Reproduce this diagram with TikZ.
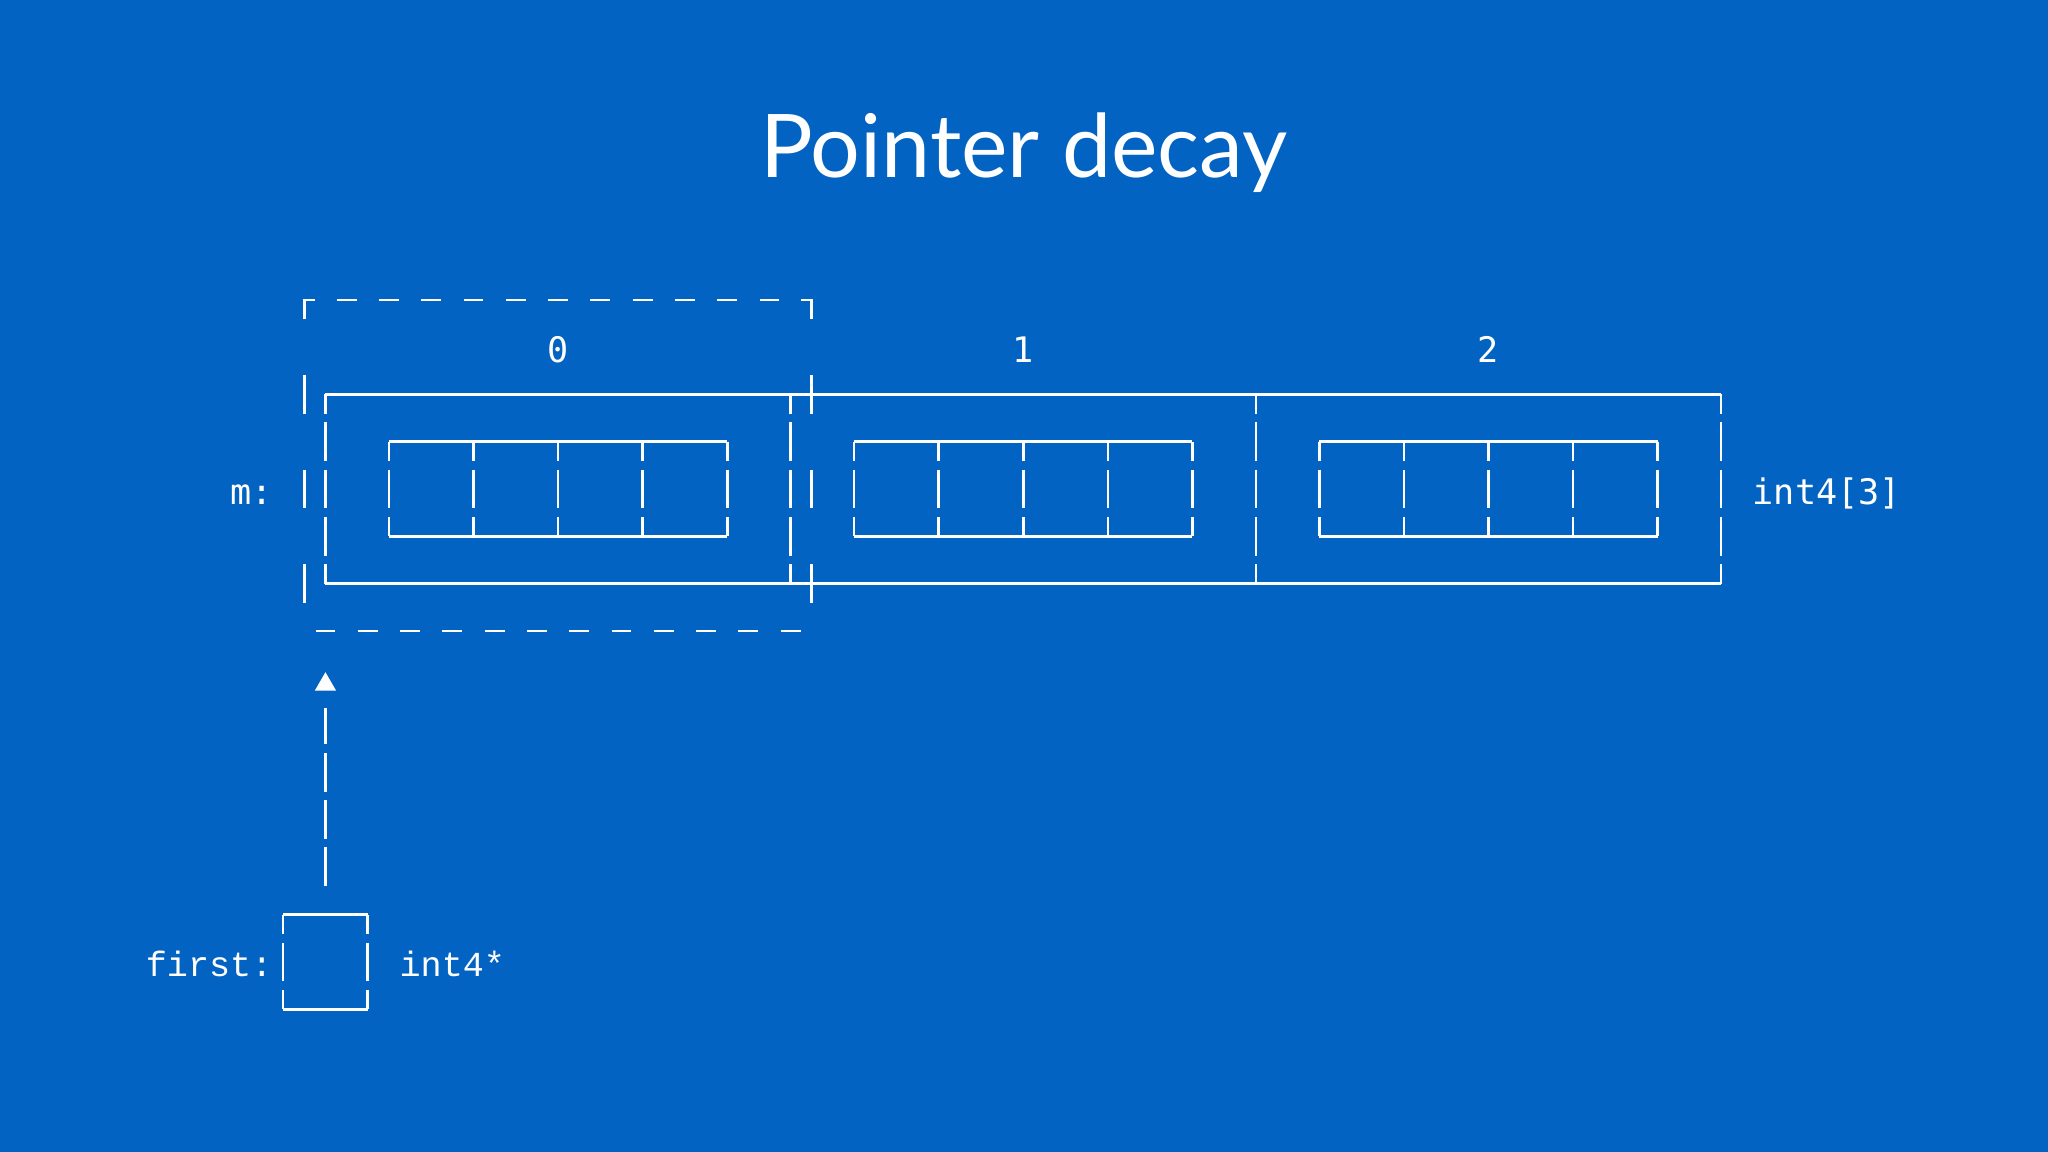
\documentclass[tikz,border=0pt]{standalone}
\usepackage{fontspec}
\setmainfont{Lato}
\newfontfamily\monofont{DejaVu Sans Mono}
\newfontfamily\termfont{Liberation Mono}
\usetikzlibrary{shapes.geometric}
\definecolor{slideblue}{RGB}{2,99,194}
\tikzset{
  wire/.style={white, line width=0.75pt},
  code/.style={text=white, font=\monofont\fontsize{10}{12}\selectfont, inner sep=0pt, anchor=base},
  term/.style={text=white, font=\termfont\fontsize{10}{12}\selectfont, inner sep=0pt, anchor=base},
  stem/.style={wire, dash pattern=on 0.388cm off 0.085cm},
  tip/.style={regular polygon, regular polygon sides=3, fill=white, inner sep=0pt, minimum size=0.245cm},
}

\begin{document}
\begin{tikzpicture}
\fill[slideblue] (0,0) rectangle (20.48,11.52);
\useasboundingbox (0,0) rectangle (20.48,11.52);
\node[text=white, font=\fontsize{25}{30}\selectfont, anchor=base] (title) at (10.24,9.74) {Pointer decay};

\begin{scope}[shift={(3.043cm,7.575cm)}, x=0.21145cm, y=-0.473cm]
\draw[wire] (1,0) -- (67,0) (1,4) -- (67,4);
\foreach \c in {1,23,45,67} {
  \draw[wire] (\c,0) -- (\c,0.41) (\c,3.59) -- (\c,4);
  \foreach \r in {1,2,3}
    \draw[wire] (\c,\r-0.41) -- (\c,\r+0.41);
}
\foreach \e in {0,22,44} {
  \draw[wire] (\e+4,1) -- (\e+20,1) (\e+4,3) -- (\e+20,3);
  \foreach \c in {4,8,...,20}
    \draw[wire] (\e+\c,1) -- (\e+\c,1.41) (\e+\c,1.59) -- (\e+\c,2.41) (\e+\c,2.59) -- (\e+\c,3);
}
\foreach \i/\c in {0/12,1/34,2/56}
  \node[code] (idx\i) at (\c,-0.68) {\i};

\draw[wire] (0,-1.59) -- (0,-2) -- (0.5,-2);
\draw[wire] (23.5,-2) -- (24,-2) -- (24,-1.59);
\foreach \c in {2,4,...,22}
  \draw[wire] (\c-0.47,-2) -- (\c+0.47,-2);
\foreach \c in {0,24}
  \foreach \r in {0,2,4}
    \draw[wire] (\c,\r-0.41) -- (\c,\r+0.41);
\foreach \c in {1,3,...,23}
  \draw[wire] (\c-0.47,5) -- (\c+0.47,5);

\node[code] (mname) at (-2.5,2.32) {m:};
\node[code] (mtype) at (72,2.32) {int4[3]};

\node[minimum width=0.846cm, minimum height=0.946cm, inner sep=0pt] (first) at (1,12) {};
\draw[wire] (-1,11) -- (3,11) (-1,13) -- (3,13);
\foreach \c in {-1,3}
  \draw[wire] (\c,11) -- (\c,11.41) (\c,11.59) -- (\c,12.41) (\c,12.59) -- (\c,13);
\node[term] (fname) at (-4.5,12.31) {first:};
\node[term] (ftype) at (7,12.31) {int4*};

\node[tip] (head) at (1,6.13) {};
\draw[stem, shorten <=0.279cm, shorten >=0.17cm] (first.north) -- (head.south);
\end{scope}
\end{tikzpicture}
\end{document}
